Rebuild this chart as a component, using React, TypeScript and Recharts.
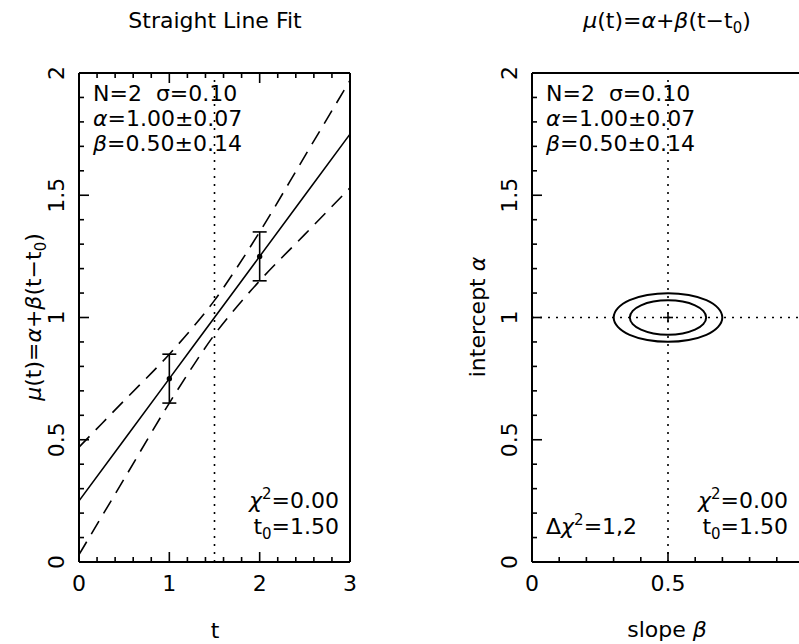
import React from "react";
import { ComposedChart, Line, Scatter, XAxis, YAxis, ReferenceLine, ErrorBar } from "recharts";

// ---- left panel: straight line fit ----
const tValues = [0, 0.5, 1, 1.25, 1.5, 1.75, 2, 2.5, 3];
const fitMu = [0.25, 0.5, 0.75, 0.875, 1.0, 1.125, 1.25, 1.5, 1.75];
const upperMu = [0.47, 0.66, 0.85, 0.955, 1.07, 1.205, 1.35, 1.66, 1.97];
const lowerMu = [0.03, 0.34, 0.65, 0.795, 0.93, 1.045, 1.15, 1.34, 1.53];

const obsT = [1, 2];
const obsMu = [0.75, 1.25];
const obsSigma = [0.1, 0.1];

const T0 = 1.5;

// ---- right panel: delta chi^2 = 1, 2 contours in (beta, alpha) ----
const bestBeta = 0.5;
const bestAlpha = 1.0;
const innerBeta = [0.644, 0.633, 0.602, 0.555, 0.5, 0.445, 0.398, 0.367, 0.356, 0.367, 0.398, 0.445, 0.5, 0.555, 0.602, 0.633];
const innerAlpha = [1.0, 1.028, 1.051, 1.067, 1.072, 1.067, 1.051, 1.028, 1.0, 0.972, 0.949, 0.933, 0.928, 0.933, 0.949, 0.972];
const outerBeta = [0.705, 0.689, 0.645, 0.578, 0.5, 0.422, 0.355, 0.311, 0.295, 0.311, 0.355, 0.422, 0.5, 0.578, 0.645, 0.689];
const outerAlpha = [1.0, 1.039, 1.073, 1.094, 1.102, 1.094, 1.073, 1.039, 1.0, 0.961, 0.927, 0.906, 0.898, 0.906, 0.927, 0.961];

// ---- ticks ----
const leftXMajor = [0, 1, 2, 3];
const leftXTicks = [0, 0.2, 0.4, 0.6, 0.8, 1, 1.2, 1.4, 1.6, 1.8, 2, 2.2, 2.4, 2.6, 2.8, 3];
const yMajor = [0, 0.5, 1, 1.5, 2];
const yTicks = [0, 0.1, 0.2, 0.3, 0.4, 0.5, 0.6, 0.7, 0.8, 0.9, 1, 1.1, 1.2, 1.3, 1.4, 1.5, 1.6, 1.7, 1.8, 1.9, 2];
const rightXMajor = [0, 0.5, 1];
const rightXLabels = [0, 0.5]; // the "1" falls past the window edge
const rightXTicks = [0, 0.1, 0.2, 0.3, 0.4, 0.5, 0.6, 0.7, 0.8, 0.9, 1];

const FONT = "'DejaVu Sans', sans-serif";
const FS = 22;

const bandRows = tValues.map((t, i) => ({ x: t, fit: fitMu[i], up: upperMu[i], lo: lowerMu[i] }));
const obsRows = obsT.map((t, i) => ({ x: t, y: obsMu[i], err: obsSigma[i] }));
const innerRows = innerBeta.map((b, i) => ({ x: b, y: innerAlpha[i] }));
const outerRows = outerBeta.map((b, i) => ({ x: b, y: outerAlpha[i] }));
const bestRows = [{ x: bestBeta, y: bestAlpha }];

const inList = (v: number, list: number[]) => list.some((m) => Math.abs(m - v) < 1e-9);

function makeTick(side: string, majors: number[], labels: number[]) {
  return (p: any) => {
    const v = p.payload.value;
    const len = inList(v, majors) ? 10 : 5;
    const { x, y } = p;
    let x2 = x, y2 = y;
    if (side === "bottom") y2 = y - len;
    if (side === "top") y2 = y + len;
    if (side === "left") x2 = x + len;
    if (side === "right") x2 = x - len;
    let label = null;
    if (inList(v, labels)) {
      if (side === "bottom") {
        label = (
          <text x={x} y={y + 29} textAnchor="middle" fontFamily={FONT} fontSize={FS} fill="#000">
            {String(v)}
          </text>
        );
      } else if (side === "left") {
        const bx = x - 15;
        label = (
          <text x={bx} y={y} transform={`rotate(-90 ${bx} ${y})`} textAnchor="middle" fontFamily={FONT} fontSize={FS} fill="#000">
            {String(v)}
          </text>
        );
      }
    }
    return (
      <g>
        <line x1={x} y1={y} x2={x2} y2={y2} stroke="#000" strokeWidth={1.6} />
        {label}
      </g>
    );
  };
}

const frame = { stroke: "#000", strokeWidth: 2 };
const I = ({ children }: { children: React.ReactNode }) => <tspan fontStyle="italic">{children}</tspan>;

function LeftPanel() {
  return (
    <ComposedChart width={400} height={644} data={bandRows} margin={{ top: 72, right: 49, bottom: 52, left: 39 }}>
      <XAxis dataKey="x" type="number" domain={[0, 3]} ticks={leftXTicks} interval={0} height={30}
        axisLine={frame} tickLine={false} tickSize={0} tickMargin={0} tick={makeTick("bottom", leftXMajor, leftXMajor)} />
      <XAxis xAxisId="top" orientation="top" dataKey="x" type="number" domain={[0, 3]} ticks={leftXTicks} interval={0} height={1}
        axisLine={frame} tickLine={false} tickSize={0} tickMargin={0} tick={makeTick("top", leftXMajor, [])} />
      <YAxis dataKey="y" type="number" domain={[0, 2]} ticks={yTicks} interval={0} width={40}
        axisLine={frame} tickLine={false} tickSize={0} tickMargin={0} tick={makeTick("left", yMajor, yMajor)} />
      <YAxis yAxisId="r" orientation="right" type="number" domain={[0, 2]} ticks={yTicks} interval={0} width={1}
        axisLine={frame} tickLine={false} tickSize={0} tickMargin={0} tick={makeTick("right", yMajor, [])} />
      <ReferenceLine x={T0} stroke="#000" strokeWidth={1.6} strokeDasharray="2 6" />
      <Line dataKey="up" type="monotone" stroke="#000" strokeWidth={1.6} strokeDasharray="15 9" dot={false} activeDot={false} isAnimationActive={false} />
      <Line dataKey="lo" type="monotone" stroke="#000" strokeWidth={1.6} strokeDasharray="15 9" dot={false} activeDot={false} isAnimationActive={false} />
      <Line dataKey="fit" type="linear" stroke="#000" strokeWidth={1.6} dot={false} activeDot={false} isAnimationActive={false} />
      <Scatter data={obsRows} dataKey="y" isAnimationActive={false}
        shape={(p: any) => <circle cx={p.cx} cy={p.cy} r={2.7} fill="#000" />}>
        <ErrorBar dataKey="err" direction="y" width={7} stroke="#000" strokeWidth={1.6} isAnimationActive={false} />
      </Scatter>
    </ComposedChart>
  );
}

function RightPanel() {
  return (
    <ComposedChart width={400} height={644} margin={{ top: 72, right: 45, bottom: 52, left: 42 }}>
      <XAxis dataKey="x" type="number" domain={[0, 1]} ticks={rightXTicks} interval={0} height={30}
        axisLine={frame} tickLine={false} tickSize={0} tickMargin={0} tick={makeTick("bottom", rightXMajor, rightXLabels)} />
      <XAxis xAxisId="top" orientation="top" dataKey="x" type="number" domain={[0, 1]} ticks={rightXTicks} interval={0} height={1}
        axisLine={frame} tickLine={false} tickSize={0} tickMargin={0} tick={makeTick("top", rightXMajor, [])} />
      <YAxis dataKey="y" type="number" domain={[0, 2]} ticks={yTicks} interval={0} width={40}
        axisLine={frame} tickLine={false} tickSize={0} tickMargin={0} tick={makeTick("left", yMajor, yMajor)} />
      <YAxis yAxisId="r" orientation="right" type="number" domain={[0, 2]} ticks={yTicks} interval={0} width={1}
        axisLine={frame} tickLine={false} tickSize={0} tickMargin={0} tick={makeTick("right", yMajor, [])} />
      <ReferenceLine x={bestBeta} stroke="#000" strokeWidth={1.6} strokeDasharray="2 6" />
      <ReferenceLine y={bestAlpha} stroke="#000" strokeWidth={1.6} strokeDasharray="2 6" />
      <Scatter data={outerRows} dataKey="y" line={{ stroke: "#000", strokeWidth: 2 }} lineType="joint" lineJointType="basisClosed"
        shape={() => <g />} isAnimationActive={false} />
      <Scatter data={innerRows} dataKey="y" line={{ stroke: "#000", strokeWidth: 2 }} lineType="joint" lineJointType="basisClosed"
        shape={() => <g />} isAnimationActive={false} />
      <Scatter data={bestRows} dataKey="y" isAnimationActive={false}
        shape={(p: any) => (
          <g stroke="#000" strokeWidth={1.6}>
            <line x1={p.cx - 5} y1={p.cy} x2={p.cx + 5} y2={p.cy} />
            <line x1={p.cx} y1={p.cy - 5} x2={p.cx} y2={p.cy + 5} />
          </g>
        )} />
    </ComposedChart>
  );
}

function Annotations() {
  const stats = (x0: number) => (
    <g>
      <text x={x0} y={101}>N=2<tspan dx={14}>σ=0.10</tspan></text>
      <text x={x0} y={126}><I>α</I>=1.00±0.07</text>
      <text x={x0} y={151}><I>β</I>=0.50±0.14</text>
    </g>
  );
  const chi = (xr: number) => (
    <g>
      <text x={xr} y={508} textAnchor="end"><I>χ</I><tspan dy={-9} fontSize={15}>2</tspan><tspan dy={9}>=0.00</tspan></text>
      <text x={xr} y={534} textAnchor="end">t<tspan dy={5} fontSize={15}>0</tspan><tspan dy={-5}>=1.50</tspan></text>
    </g>
  );
  return (
    <svg width={799} height={644} style={{ position: "absolute", left: 0, top: 0, pointerEvents: "none" }}
      fontFamily={FONT} fontSize={FS} fill="#000">
      <text x={215} y={28} textAnchor="middle">Straight Line Fit</text>
      <text x={667} y={28} textAnchor="middle">
        <I>μ</I>(t)=<I>α</I>+<I>β</I>(t−t<tspan dy={5} fontSize={15}>0</tspan><tspan dy={-5}>)</tspan>
      </text>
      <text x={215} y={638} textAnchor="middle">t</text>
      <text x={667} y={637} textAnchor="middle">slope <I>β</I></text>
      <text x={41} y={317} textAnchor="middle" transform="rotate(-90 41 317)">
        <I>μ</I>(t)=<I>α</I>+<I>β</I>(t−t<tspan dy={5} fontSize={15}>0</tspan><tspan dy={-5}>)</tspan>
      </text>
      <text x={485} y={317} textAnchor="middle" transform="rotate(-90 485 317)">intercept <I>α</I></text>
      {stats(93)}
      {stats(546)}
      {chi(339)}
      {chi(788)}
      <text x={546} y={534}>Δ<I>χ</I><tspan dy={-9} fontSize={15}>2</tspan><tspan dy={9}>=1,2</tspan></text>
    </svg>
  );
}

export default function App() {
  return (
    <div style={{ position: "absolute", left: 0, top: 0, width: 799, height: 644, overflow: "hidden", background: "#fff" }}>
      <div style={{ position: "absolute", left: 0, top: 0 }}>
        <LeftPanel />
      </div>
      <div style={{ position: "absolute", left: 450, top: 0 }}>
        <RightPanel />
      </div>
      <Annotations />
    </div>
  );
}
